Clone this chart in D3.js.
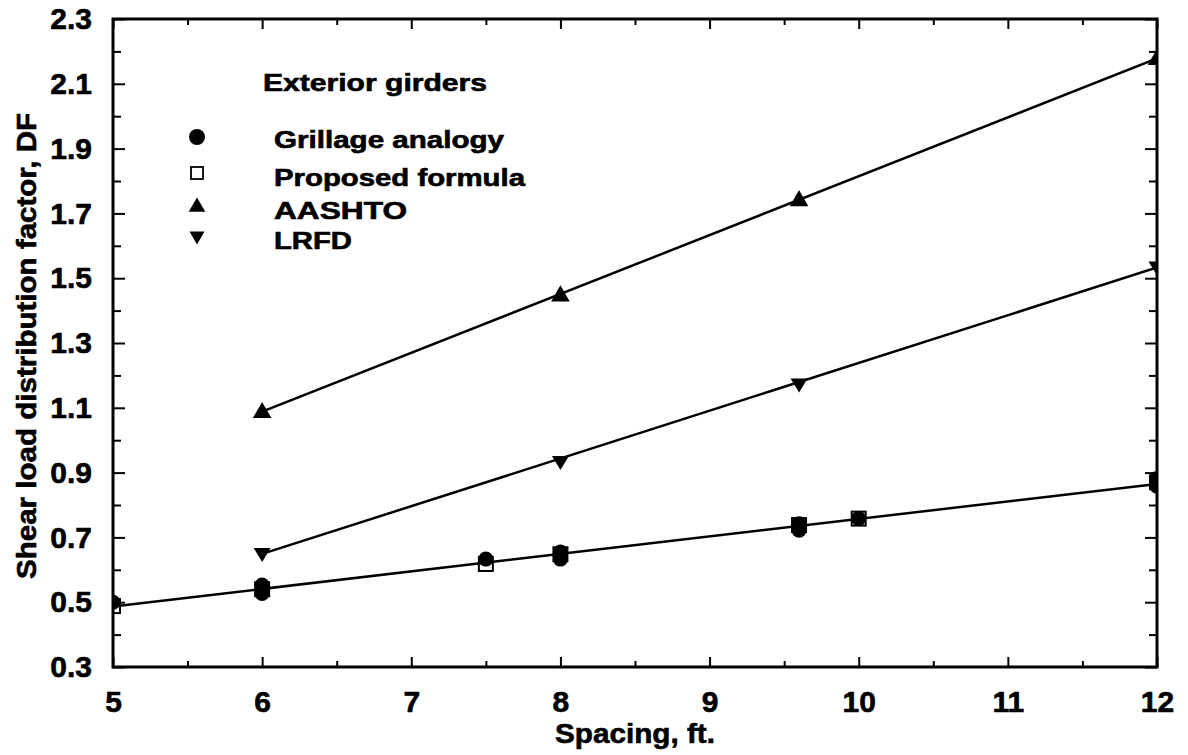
<!DOCTYPE html>
<html>
<head>
<meta charset="utf-8">
<script src="https://cdnjs.cloudflare.com/ajax/libs/d3/7.8.5/d3.min.js"></script>
<style>
  body { margin: 0; background: #fff; }
  text { font-family: "Liberation Sans", Arial, sans-serif; font-weight: bold; fill: #000; stroke: #000; stroke-width: 0.6px; }
</style>
</head>
<body>
<div id="chart"></div>
<script>
// values
const xTicks = [5, 6, 7, 8, 9, 10, 11, 12];
const yTicks = [0.3, 0.5, 0.7, 0.9, 1.1, 1.3, 1.5, 1.7, 1.9, 2.1, 2.3];

const grillageX  = [5, 6, 6, 7.5, 8, 8, 9.6, 9.6, 10, 12, 12];
const grillageDF = [0.50, 0.553, 0.527, 0.633, 0.655, 0.633, 0.742, 0.722, 0.758, 0.882, 0.858];

const proposedX  = [5, 6, 7.5, 8, 9.6, 10, 12];
const proposedDF = [0.488, 0.54, 0.618, 0.648, 0.738, 0.758, 0.87];

const aashtoX  = [6, 8, 9.6, 12];
const aashtoDF = [1.088, 1.448, 1.742, 2.178];

const lrfdX  = [6, 8, 9.6, 12];
const lrfdDF = [0.649, 0.933, 1.172, 1.533];

// fitted line through grillage / proposed values
const fitX  = [5, 12];
const fitDF = [0.487, 0.865];

const legendItems = ["Grillage analogy", "Proposed formula", "AASHTO", "LRFD"];

const width = 1188, height = 755;
const x = d3.scaleLinear().domain([5, 12]).range([113, 1157]);
const y = d3.scaleLinear().domain([0.3, 2.3]).range([667, 19]);

const svg = d3.select("#chart").append("svg")
    .attr("width", width)
    .attr("height", height);

svg.append("clipPath").attr("id", "plot-clip")
  .append("rect")
    .attr("x", x(5)).attr("y", y(2.3))
    .attr("width", x(12) - x(5)).attr("height", y(0.3) - y(2.3));

const zip = (xs, ys) => xs.map((v, i) => [v, ys[i]]);

// axes
const minorX = d3.range(5.5, 12, 1);
const minorY = d3.range(0.4, 2.3, 0.2);

function styleAxis(g) {
    g.select(".domain").remove();
    g.selectAll(".tick line").attr("stroke", "#000").attr("stroke-width", 2);
    g.selectAll(".tick text").style("font-size", "30px");
}

svg.append("g").attr("transform", `translate(0,${y(0.3)})`)
    .call(d3.axisBottom(x).tickValues(xTicks).tickSizeInner(-10).tickSizeOuter(0)
        .tickPadding(24).tickFormat(d3.format("d")))
    .call(styleAxis)
    .call(g => g.selectAll(".tick text").attr("fill", "#000"));
svg.append("g").attr("transform", `translate(0,${y(0.3)})`)
    .call(d3.axisBottom(x).tickValues(minorX).tickSizeInner(-6).tickSizeOuter(0).tickFormat(""))
    .call(styleAxis);
svg.append("g").attr("transform", `translate(0,${y(2.3)})`)
    .call(d3.axisTop(x).tickValues(xTicks).tickSizeInner(-10).tickSizeOuter(0).tickFormat(""))
    .call(styleAxis);
svg.append("g").attr("transform", `translate(0,${y(2.3)})`)
    .call(d3.axisTop(x).tickValues(minorX).tickSizeInner(-6).tickSizeOuter(0).tickFormat(""))
    .call(styleAxis);

svg.append("g").attr("transform", `translate(${x(5)},0)`)
    .call(d3.axisLeft(y).tickValues(yTicks).tickSizeInner(-12).tickSizeOuter(0)
        .tickPadding(21).tickFormat(d3.format(".1f")))
    .call(styleAxis)
    .call(g => g.selectAll(".tick text").attr("fill", "#000"));
svg.append("g").attr("transform", `translate(${x(5)},0)`)
    .call(d3.axisLeft(y).tickValues(minorY).tickSizeInner(-8).tickSizeOuter(0).tickFormat(""))
    .call(styleAxis);
svg.append("g").attr("transform", `translate(${x(12)},0)`)
    .call(d3.axisRight(y).tickValues(yTicks).tickSizeInner(-12).tickSizeOuter(0).tickFormat(""))
    .call(styleAxis);
svg.append("g").attr("transform", `translate(${x(12)},0)`)
    .call(d3.axisRight(y).tickValues(minorY).tickSizeInner(-8).tickSizeOuter(0).tickFormat(""))
    .call(styleAxis);

// frame
svg.append("rect")
    .attr("x", x(5)).attr("y", y(2.3))
    .attr("width", x(12) - x(5)).attr("height", y(0.3) - y(2.3))
    .attr("fill", "none").attr("stroke", "#000").attr("stroke-width", 3);

// lines
const line = d3.line().x(d => x(d[0])).y(d => y(d[1]));
const plot = svg.append("g").attr("clip-path", "url(#plot-clip)");

[zip(fitX, fitDF), zip([aashtoX[0], aashtoX[3]], [aashtoDF[0], aashtoDF[3]]),
 zip([lrfdX[0], lrfdX[3]], [lrfdDF[0], lrfdDF[3]])].forEach(pts => {
    plot.append("path").attr("d", line(pts))
        .attr("fill", "none").attr("stroke", "#000").attr("stroke-width", 2.5);
});

// markers
const triUp = d3.symbol().type(d3.symbolTriangle).size(150);
const triDown = "M-8.5,-6L8.5,-6L0,8Z";

plot.selectAll(".prop").data(zip(proposedX, proposedDF)).join("rect")
    .attr("x", d => x(d[0]) - 7).attr("y", d => y(d[1]) - 7)
    .attr("width", 14).attr("height", 14)
    .attr("fill", "none").attr("stroke", "#000").attr("stroke-width", 2);

plot.selectAll(".gril").data(zip(grillageX, grillageDF)).join("circle")
    .attr("cx", d => x(d[0])).attr("cy", d => y(d[1])).attr("r", 7.5)
    .attr("fill", "#000");

plot.selectAll(".aash").data(zip(aashtoX, aashtoDF)).join("path")
    .attr("d", triUp)
    .attr("transform", d => `translate(${x(d[0])},${y(d[1]) + 1})`)
    .attr("fill", "#000");

plot.selectAll(".lrfd").data(zip(lrfdX, lrfdDF)).join("path")
    .attr("d", triDown)
    .attr("transform", d => `translate(${x(d[0])},${y(d[1])})`)
    .attr("fill", "#000");

// legend
const legend = svg.append("g");
legend.append("text").attr("x", 263).attr("y", 91)
    .style("font-size", "23px").attr("textLength", 224).attr("lengthAdjust", "spacingAndGlyphs")
    .text("Exterior girders");

const rowY = [140, 178, 211, 241];
const rowW = [230, 251, 133, 78];
legendItems.forEach((name, i) => {
    legend.append("text").attr("x", 274).attr("y", rowY[i] + 8)
        .style("font-size", "23px").attr("textLength", rowW[i]).attr("lengthAdjust", "spacingAndGlyphs")
        .text(name);
});
legend.append("circle").attr("cx", 197).attr("cy", rowY[0] - 3).attr("r", 8).attr("fill", "#000");
legend.append("rect").attr("x", 191).attr("y", rowY[1] - 11).attr("width", 12).attr("height", 12)
    .attr("fill", "none").attr("stroke", "#000").attr("stroke-width", 1.8);
legend.append("path").attr("d", d3.symbol().type(d3.symbolTriangle).size(120))
    .attr("transform", `translate(197,${rowY[2] - 4})`).attr("fill", "#000");
legend.append("path").attr("d", "M-7.5,-5.5L7.5,-5.5L0,7.5Z")
    .attr("transform", `translate(197,${rowY[3] - 4})`).attr("fill", "#000");

// axis titles
svg.append("text").attr("x", 635).attr("y", 743).attr("text-anchor", "middle")
    .style("font-size", "28px").attr("textLength", 160).attr("lengthAdjust", "spacingAndGlyphs")
    .text("Spacing, ft.");

svg.append("text").attr("transform", "translate(36,346) rotate(-90)").attr("text-anchor", "middle")
    .style("font-size", "28px").attr("textLength", 466).attr("lengthAdjust", "spacingAndGlyphs")
    .text("Shear load distribution factor, DF");
</script>
</body>
</html>
